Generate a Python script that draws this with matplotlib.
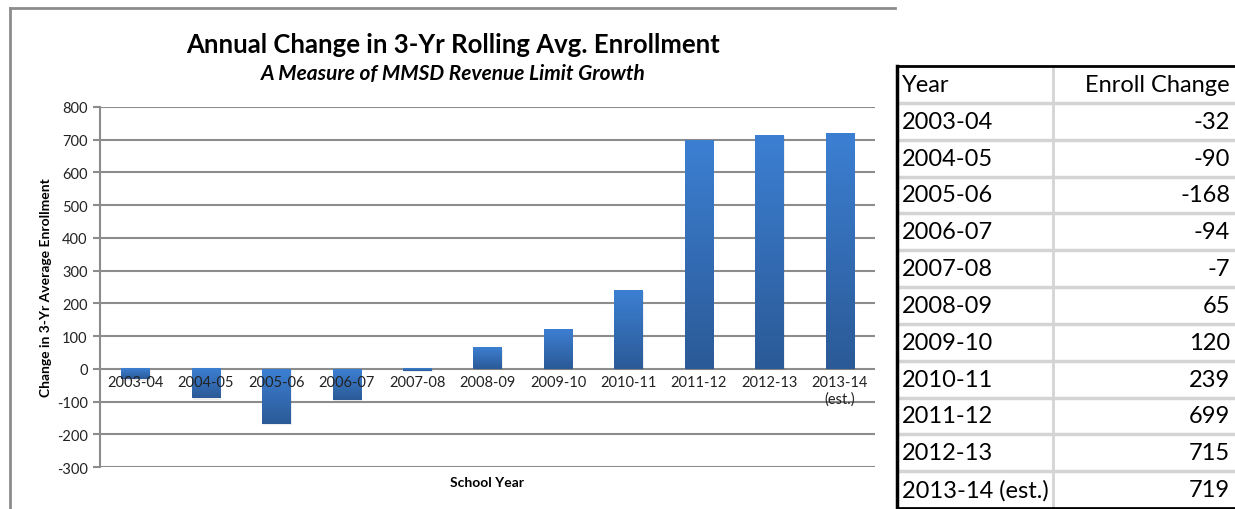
import matplotlib.pyplot as plt
import numpy as np
from matplotlib.colors import LinearSegmentedColormap

plt.rcParams['font.family'] = ['Lato', 'DejaVu Sans']
plt.rcParams['axes.unicode_minus'] = False

years = ['2003-04', '2004-05', '2005-06', '2006-07', '2007-08', '2008-09',
         '2009-10', '2010-11', '2011-12', '2012-13', '2013-14\n(est.)']
table_years = ['2003-04', '2004-05', '2005-06', '2006-07', '2007-08', '2008-09',
               '2009-10', '2010-11', '2011-12', '2012-13', '2013-14 (est.)']
change = [-32, -90, -168, -94, -7, 65, 120, 239, 699, 715, 719]
yticks = [-300, -200, -100, 0, 100, 200, 300, 400, 500, 600, 700, 800]

W, H = 1235, 510
fig = plt.figure(figsize=(W/100, H/100), dpi=100)

# chart area (pixel based placement)
ax = fig.add_axes([100/W, 42/H, 775/W, 360/H])
x = np.arange(len(change))
bars = ax.bar(x, change, width=0.4, color='#3470bd', zorder=3)

# gradient fill: light blue at top, darker at bottom
cmap = LinearSegmentedColormap.from_list('blu', ['#2b5a97', '#3c7fd2'])
grad = np.linspace(0, 1, 100).reshape(-1, 1)
for b in bars:
    x0, y0, w, h = b.get_x(), b.get_y(), b.get_width(), b.get_height()
    lo, hi = min(y0, y0 + h), max(y0, y0 + h)
    ax.imshow(grad, cmap=cmap, aspect='auto', origin='lower',
              extent=(x0, x0 + w, lo, hi), zorder=4)
    # soft shadow
    ax.bar(x0 + w/2 + 0.02, h, bottom=y0 - 4, width=w, color='#000000',
           alpha=0.07, zorder=2)

ax.set_xlim(-0.5, len(change) - 0.5)
ax.set_ylim(-300, 800)
ax.set_yticks(yticks)
ax.yaxis.grid(True, color='#8c8c8c', linewidth=1.5, zorder=0)
ax.set_axisbelow(True)
ax.set_xticks([])
for s in ['top', 'right', 'bottom']:
    ax.spines[s].set_visible(False)
ax.spines['left'].set_color('#8c8c8c')
ax.spines['left'].set_linewidth(1.5)
ax.tick_params(axis='y', colors='#8c8c8c', length=5, width=1.5,
               labelcolor='#222222', labelsize=10.5, pad=4)

for i, lab in enumerate(years):
    ax.text(i, -18, lab, ha='center', va='top', fontsize=10.5,
            color='#222222', zorder=5, linespacing=1.25)

ax.set_xlabel('School Year', fontsize=10, fontweight='bold')
ax.xaxis.set_label_coords(0.5, -0.025)
ax.set_ylabel('Change in 3-Yr Average Enrollment', fontsize=10,
              fontweight='bold')
ax.yaxis.set_label_coords(-0.062, 0.5)

# overlay for frame, titles and table in pixel coords
ov = fig.add_axes([0, 0, 1, 1], zorder=-1)
ov.set_xlim(0, W)
ov.set_ylim(H, 0)
ov.axis('off')

ov.plot([10, 895], [9, 9], color='#8c8c8c', lw=2)
ov.plot([10, 10], [9, 510], color='#8c8c8c', lw=2)

fig.text(453/W, 1 - 45/H, 'Annual Change in 3-Yr Rolling Avg. Enrollment',
         ha='center', va='center', fontsize=18.5, fontweight='bold')
fig.text(453/W, 1 - 74/H, 'A Measure of MMSD Revenue Limit Growth',
         ha='center', va='center', fontsize=15, fontweight='bold',
         style='italic')

# table
top, bot = 67, 509
n_rows = len(table_years) + 1
rh = (bot - top) / n_rows
for r in range(1, n_rows):
    ov.plot([898, W], [top + r*rh] * 2, color='#d4d4d4', lw=2.5)
ov.plot([1053, 1053], [top, bot], color='#d4d4d4', lw=2)
ov.plot([897, W], [top, top], color='black', lw=2)
ov.plot([897, W], [bot, bot], color='black', lw=2)
ov.plot([897, 897], [top, bot], color='black', lw=2.5)

fs = 17
ov.text(902, top + rh/2, 'Year', ha='left', va='center', fontsize=fs)
ov.text(1230, top + rh/2, 'Enroll Change', ha='right', va='center', fontsize=fs)
for r, (yr, v) in enumerate(zip(table_years, change), start=1):
    yc = top + r*rh + rh/2
    ov.text(902, yc, yr, ha='left', va='center', fontsize=fs)
    ov.text(1230, yc, str(v), ha='right', va='center', fontsize=fs)

fig.savefig('out.png', dpi=100)
